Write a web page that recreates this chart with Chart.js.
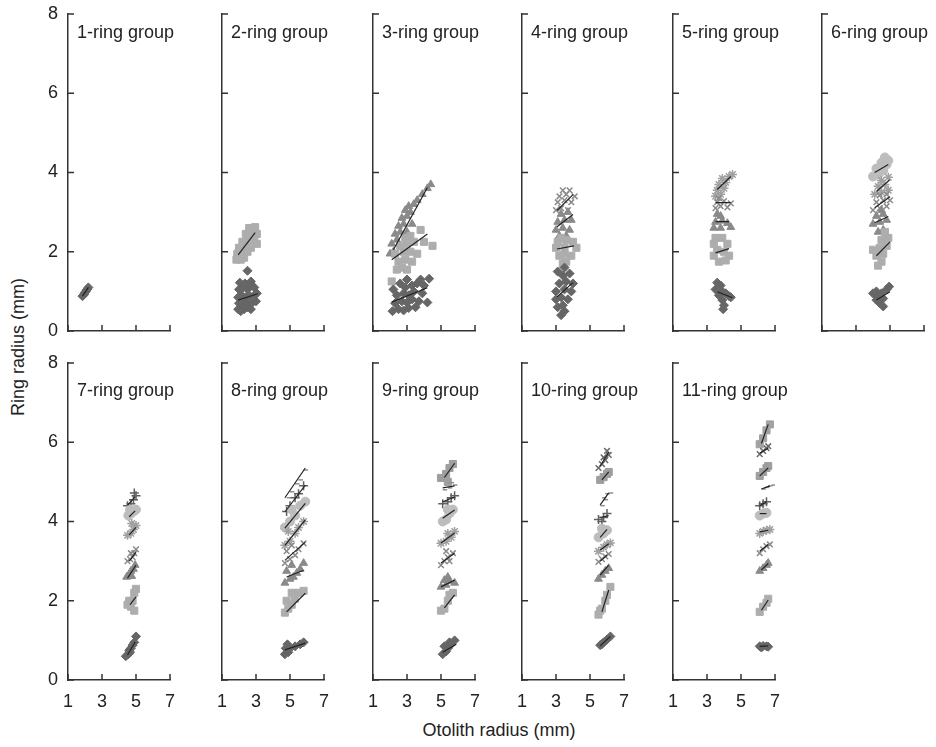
<!DOCTYPE html>
<html>
<head>
<meta charset="utf-8">
<title>Ring radius vs otolith radius</title>
<script src="https://cdn.jsdelivr.net/npm/chart.js@4.4.1/dist/chart.umd.min.js"></script>
<style>
  body { margin: 0; background: #fff; }
  #wrap { position: relative; width: 936px; height: 747px; overflow: hidden;
          font-family: "Liberation Sans", Arial, sans-serif; color: #222; }
  #wrap canvas { position: absolute; }
  .axis-title { position: absolute; font-size: 18px; white-space: nowrap; line-height: 1; }
  #ytitle { left: 18px; top: 347px; transform: translate(-50%, -50%) rotate(-90deg); }
  #xtitle { left: 499px; top: 730px; transform: translate(-50%, -50%); }
</style>
</head>
<body>
<div id="wrap">
  <div class="axis-title" id="ytitle">Ring radius (mm)</div>
  <div class="axis-title" id="xtitle">Otolith radius (mm)</div>
</div>
<script>
// Data

const panelTitles = ['1-ring group', '2-ring group', '3-ring group', '4-ring group', '5-ring group', '6-ring group',
                     '7-ring group', '8-ring group', '9-ring group', '10-ring group', '11-ring group'];
const xTickValues = [1, 3, 5, 7];
const yTickValues = [0, 2, 4, 6, 8];

// marker per ring number (ring 1 first)
const ringMarkers = ['rectRot', 'rect', 'triangle', 'crossRot', 'star', 'circle', 'cross', 'dash', 'rect', 'crossRot', 'rect'];
const ringColors  = ['#666666', '#adadad', '#8a8a8a', '#8a8a8a', '#a0a0a0', '#bdbdbd', '#606060', '#8e8e8e', '#9e9e9e', '#6a6a6a', '#a2a2a2'];
const ringSizes   = [4.5, 5, 4.5, 4, 4.5, 4.5, 4.5, 4.5, 5, 4, 5];

// [otolith radius, ring radius] points, one list per ring
const group1 = [
  [[1.85,0.88],[1.9,0.9],[1.95,0.93],[2.0,0.97],[2.05,1.0],[2.1,1.04],[2.15,1.06],[2.2,1.1]]
];
const group2 = [
  [[1.95,0.55],[2.1,0.5],[2.3,0.55],[2.5,0.6],[2.7,0.55],[2.0,0.7],[2.2,0.68],[2.45,0.72],[2.75,0.7],[3.0,0.75],
   [1.95,0.85],[2.15,0.9],[2.4,0.85],[2.65,0.88],[2.9,0.9],[3.05,0.95],[2.0,1.05],[2.25,1.1],[2.5,1.05],[2.75,1.15],
   [2.9,1.1],[2.05,1.22],[2.35,1.2],[2.7,1.25],[2.5,1.52]],
  [[1.85,1.8],[2.1,1.8],[2.3,1.85],[1.9,1.95],[2.2,2.0],[2.5,2.0],[2.0,2.1],[2.35,2.15],[2.7,2.1],[2.2,2.25],
   [2.55,2.3],[2.9,2.3],[2.4,2.45],[2.75,2.45],[3.05,2.45],[2.6,2.6],[2.95,2.62],[3.05,2.2]]
];
const group3 = [
  [[2.15,0.5],[2.5,0.55],[2.8,0.52],[3.1,0.58],[3.5,0.6],[2.3,0.7],[2.7,0.75],[3.0,0.72],[3.3,0.8],[3.7,0.75],
   [4.2,0.72],[2.4,0.9],[2.8,0.95],[3.1,0.9],[3.4,1.0],[3.9,0.95],[2.2,1.05],[2.9,1.1],[3.3,1.15],[3.6,1.2],
   [4.0,1.15],[3.0,1.3],[3.8,1.3],[4.3,1.32],[2.6,1.2]],
  [[2.1,1.25],[2.4,1.55],[2.7,1.6],[3.0,1.55],[2.5,1.75],[2.9,1.8],[3.3,1.75],[2.3,1.95],[2.8,2.0],[3.2,2.0],
   [3.6,1.95],[2.6,2.15],[3.0,2.2],[3.4,2.25],[4.0,2.25],[4.5,2.15],[3.2,2.4],[3.8,2.55],[2.9,2.35]],
  [[2.0,1.95],[2.2,2.0],[2.1,2.2],[2.4,2.3],[2.3,2.45],[2.6,2.5],[2.5,2.65],[2.8,2.7],[2.7,2.85],[3.0,2.9],
   [2.9,3.05],[3.2,3.0],[3.1,3.15],[3.4,3.2],[3.6,3.3],[3.9,3.45],[4.2,3.6],[4.4,3.7],[3.3,2.7],[3.0,2.5]]
];
const group4 = [
  [[3.3,0.4],[3.5,0.5],[3.1,0.6],[3.4,0.65],[3.0,0.8],[3.3,0.85],[3.7,0.8],[3.0,1.0],[3.5,1.05],[3.9,1.0],
   [3.2,1.2],[3.6,1.25],[4.0,1.2],[3.4,1.4],[3.8,1.45],[3.5,1.6],[3.1,1.5]],
  [[3.4,1.7],[3.6,1.75],[3.2,1.9],[3.5,1.95],[3.9,1.9],[3.0,2.1],[3.5,2.1],[4.2,2.1],[3.1,2.25],[3.6,2.3],[4.0,2.25],[3.3,2.35]],
  [[3.2,2.4],[3.6,2.4],[3.0,2.55],[3.4,2.6],[3.8,2.55],[3.1,2.75],[3.5,2.8],[3.9,2.8],[3.3,2.95],[3.7,3.0]],
  [[3.0,3.05],[3.3,3.1],[3.7,3.05],[3.1,3.25],[3.5,3.3],[3.9,3.25],[3.2,3.4],[3.6,3.45],[4.1,3.4],[3.4,3.55],[3.8,3.55]]
];
const group5 = [
  [[3.6,1.22],[3.8,1.15],[3.5,1.05],[3.9,1.0],[4.1,0.95],[3.7,0.9],[4.3,0.88],[4.4,0.85],[3.9,0.78],[4.0,0.65],[3.95,0.55]],
  [[3.5,2.35],[3.9,2.35],[3.4,2.2],[4.2,2.2],[3.6,2.05],[4.0,2.0],[3.4,1.9],[4.3,1.9],[3.7,1.75],[4.1,1.78]],
  [[3.6,2.95],[3.8,2.9],[3.5,2.75],[3.9,2.78],[4.2,2.72],[3.4,2.6],[3.8,2.6],[4.4,2.62]],
  [[3.5,3.1],[3.8,3.15],[4.2,3.12],[3.6,3.25],[4.0,3.28],[4.4,3.22],[3.7,3.35]],
  [[3.5,3.4],[3.8,3.45],[3.6,3.55],[4.0,3.6],[3.7,3.7],[4.1,3.75],[3.9,3.85],[4.3,3.9],[4.5,3.95]]
];
const group6 = [
  [[4.0,0.95],[4.2,1.0],[4.5,0.95],[4.8,1.05],[4.95,1.12],[4.3,0.85],[4.6,0.82],[4.4,0.7],[4.6,0.62],[4.2,0.78]],
  [[4.3,1.65],[4.5,1.75],[4.2,1.9],[4.6,1.95],[4.0,2.05],[4.4,2.1],[4.8,2.15],[4.5,2.3],[4.9,2.35],[4.7,2.5]],
  [[4.3,2.5],[4.6,2.55],[4.0,2.7],[4.4,2.75],[4.8,2.8],[4.2,2.9],[4.6,2.95],[4.5,3.05]],
  [[4.0,3.05],[4.4,3.1],[4.8,3.15],[4.2,3.25],[4.6,3.3],[5.0,3.3],[4.4,3.42],[4.8,3.45]],
  [[4.1,3.45],[4.5,3.5],[4.9,3.55],[4.3,3.65],[4.7,3.7],[4.5,3.8],[4.9,3.88]],
  [[4.0,3.9],[4.3,3.95],[4.6,4.05],[4.2,4.1],[4.8,4.2],[4.5,4.25],[4.9,4.3],[4.7,4.38]]
];
const group7 = [
  [[4.4,0.6],[4.55,0.65],[4.65,0.7],[4.6,0.75],[4.7,0.8],[4.8,0.88],[4.9,0.95],[5.0,1.1]],
  [[4.5,1.9],[4.6,2.0],[4.7,1.85],[4.9,1.75],[4.8,2.0],[4.9,2.2],[5.0,2.3]],
  [[4.45,2.6],[4.6,2.65],[4.75,2.62],[4.7,2.75],[4.85,2.8],[4.95,2.9]],
  [[4.5,3.0],[4.65,3.05],[4.8,3.1],[4.7,3.2],[4.9,3.2],[5.0,3.3]],
  [[4.5,3.65],[4.7,3.7],[4.85,3.8],[5.0,3.9],[4.75,3.95]],
  [[4.55,4.15],[4.7,4.2],[4.85,4.25],[5.0,4.3],[4.65,4.3]],
  [[4.5,4.4],[4.7,4.45],[4.85,4.55],[5.0,4.65],[4.9,4.72]]
];
const group8 = [
  [[4.7,0.65],[4.9,0.7],[4.75,0.8],[5.0,0.8],[5.3,0.85],[5.6,0.9],[5.8,0.95],[4.85,0.9]],
  [[4.7,1.7],[4.9,1.8],[5.1,1.9],[4.8,2.0],[5.3,2.05],[5.5,2.2],[5.8,2.25],[5.1,2.2]],
  [[4.7,2.45],[5.0,2.55],[5.2,2.6],[4.8,2.75],[5.4,2.7],[5.6,2.8],[5.1,2.9],[5.8,2.95]],
  [[4.7,2.95],[5.0,3.05],[5.3,3.15],[4.8,3.25],[5.5,3.3],[5.8,3.45],[5.1,3.4]],
  [[4.7,3.4],[5.0,3.5],[5.3,3.7],[4.9,3.75],[5.5,3.85],[5.8,4.0]],
  [[4.7,3.85],[5.0,4.0],[5.3,4.15],[5.1,4.3],[5.6,4.4],[5.9,4.5]],
  [[4.8,4.25],[5.0,4.4],[5.3,4.6],[5.5,4.7],[5.8,4.9]],
  [[4.8,4.6],[5.0,4.75],[5.3,4.95],[5.5,5.05],[5.8,5.3]]
];
const group9 = [
  [[5.1,0.65],[5.3,0.72],[5.4,0.8],[5.6,0.9],[5.8,1.0],[5.2,0.85],[5.5,0.95]],
  [[5.0,1.75],[5.2,1.8],[5.4,2.0],[5.5,2.15],[5.7,2.2]],
  [[5.0,2.35],[5.3,2.4],[5.5,2.5],[5.8,2.45],[5.4,2.6],[5.2,2.52]],
  [[5.0,2.9],[5.2,3.0],[5.4,3.1],[5.7,3.2],[5.5,3.0],[5.3,3.25]],
  [[5.0,3.45],[5.3,3.5],[5.6,3.6],[5.8,3.75],[5.4,3.7]],
  [[5.1,4.0],[5.3,4.05],[5.5,4.2],[5.7,4.3],[5.4,4.3]],
  [[5.1,4.45],[5.4,4.5],[5.6,4.6],[5.8,4.65]],
  [[5.1,4.8],[5.4,4.85],[5.7,4.92],[5.5,4.98]],
  [[5.0,5.1],[5.3,5.2],[5.5,5.35],[5.7,5.45],[5.4,5.0]]
];
const group10 = [
  [[5.6,0.88],[5.7,0.9],[5.8,0.95],[6.0,1.02],[6.2,1.1]],
  [[5.5,1.65],[5.6,1.75],[5.7,1.8],[5.9,2.0],[6.0,2.15],[6.2,2.35]],
  [[5.5,2.55],[5.7,2.65],[5.9,2.75],[6.1,2.82]],
  [[5.5,2.98],[5.7,3.05],[5.9,3.12],[6.1,3.18]],
  [[5.5,3.25],[5.8,3.35],[6.0,3.42],[6.2,3.46]],
  [[5.5,3.6],[5.8,3.7],[6.0,3.78],[5.7,3.82]],
  [[5.5,4.05],[5.8,4.1],[6.0,4.2],[5.7,4.0]],
  [[5.6,4.4],[5.8,4.55],[5.9,4.7],[6.1,4.72],[5.7,4.6]],
  [[5.6,5.05],[5.8,5.12],[6.0,5.2],[6.1,5.25]],
  [[5.5,5.35],[5.7,5.45],[5.9,5.55],[6.1,5.68],[6.0,5.78],[5.8,5.62]]
];
const group11 = [
  [[6.1,0.85],[6.2,0.82],[6.3,0.86],[6.5,0.85],[6.6,0.84]],
  [[6.1,1.72],[6.3,1.85],[6.5,1.95],[6.6,2.05]],
  [[6.1,2.75],[6.3,2.82],[6.5,2.9],[6.6,2.95]],
  [[6.1,3.2],[6.3,3.3],[6.5,3.38],[6.7,3.42]],
  [[6.1,3.7],[6.3,3.75],[6.5,3.78],[6.7,3.8]],
  [[6.1,4.15],[6.3,4.2],[6.5,4.22]],
  [[6.1,4.4],[6.3,4.45],[6.5,4.5]],
  [[6.2,4.82],[6.4,4.86],[6.6,4.9],[6.8,4.92]],
  [[6.1,5.15],[6.3,5.25],[6.5,5.35],[6.6,5.4]],
  [[6.1,5.7],[6.3,5.78],[6.5,5.85],[6.6,5.9]],
  [[6.1,5.95],[6.3,6.1],[6.5,6.3],[6.7,6.45]]
];

// fitted line per ring: [x0, y0, x1, y1]
const fit1 = [[1.85,0.88,2.2,1.1]];
const fit2 = [[1.95,0.78,3.1,0.94],[1.95,1.92,2.95,2.48]];
const fit3 = [[2.1,0.73,4.2,1.09],[2.1,1.8,4.2,2.45],[2.2,2.05,4.2,3.62]];
const fit4 = [[3.06,0.86,4.0,1.22],[3.06,2.07,4.05,2.15],[3.06,2.63,4.0,2.94],[3.06,3.04,4.0,3.44]];
const fit5 = [[3.6,0.99,4.5,0.84],[3.5,1.97,4.3,2.08],[3.5,2.76,4.3,2.76],[3.5,3.24,4.4,3.24],[3.6,3.57,4.4,3.9]];
const fit6 = [[4.2,0.78,5.0,0.99],[4.2,1.9,5.0,2.25],[4.1,2.73,4.9,2.89],[4.1,3.11,5.0,3.39],[4.2,3.52,5.0,3.82],[4.1,4.0,4.9,4.2]];
const fit7 = [[4.5,0.63,4.95,0.96],[4.65,1.9,5.0,2.1],[4.5,2.57,5.0,2.9],[4.6,3.0,5.0,3.22],[4.6,3.66,5.0,3.85],[4.6,4.12,4.95,4.27],[4.5,4.41,4.95,4.62]];
const fit8 = [[4.7,0.76,5.9,0.93],[4.8,1.72,5.9,2.19],[4.8,2.6,5.8,2.77],[4.7,3.02,5.9,3.48],[4.7,3.4,5.9,4.04],[4.7,3.83,5.9,4.46],[4.7,4.24,5.9,4.92],[4.7,4.6,5.9,5.35]];
const fit9 = [[5.1,0.7,5.9,0.9],[5.2,1.82,5.8,2.15],[5.0,2.35,5.8,2.52],[5.0,2.95,5.8,3.2],[5.0,3.46,5.8,3.71],[5.1,4.08,5.8,4.29],[5.1,4.5,5.8,4.62],[5.1,4.85,5.8,4.9],[5.2,5.11,5.8,5.47]];
const fit10 = [[5.6,0.86,6.2,1.1],[5.7,1.72,6.1,2.27],[5.6,2.65,6.1,2.9],[5.6,3.0,6.0,3.15],[5.6,3.28,6.1,3.44],[5.6,3.6,6.0,3.8],[5.6,4.1,6.1,4.15],[5.6,4.42,6.1,4.72],[5.7,5.05,6.1,5.25],[5.6,5.4,6.1,5.75]];
const fit11 = [[6.1,0.85,6.6,0.86],[6.2,1.76,6.6,2.02],[6.2,2.78,6.6,2.94],[6.1,3.25,6.6,3.42],[6.1,3.74,6.6,3.78],[6.1,4.2,6.5,4.2],[6.1,4.4,6.5,4.5],[6.2,4.82,6.7,4.9],[6.1,5.15,6.6,5.35],[6.1,5.72,6.6,5.85],[6.2,5.97,6.6,6.45]];

const groups = [group1, group2, group3, group4, group5, group6, group7, group8, group9, group10, group11];
const fits = [fit1, fit2, fit3, fit4, fit5, fit6, fit7, fit8, fit9, fit10, fit11];

// Layout

const axisLeft = [68, 222, 373, 522, 673, 822];
const rowTop = [14, 363];
const titleDrop = [24, 32.5];
const plotW = 102, plotH = 317;
const padL = 60, padT = 30, padR = 32, padB = 40;
const FONT = '"Liberation Sans", Arial, Helvetica, sans-serif';

Chart.defaults.font.family = FONT;
Chart.defaults.font.size = 18;
Chart.defaults.color = '#222';

const filledMarkers = ['rectRot', 'rect', 'triangle', 'circle'];

// inward tick marks + the panel label
const panelDecor = {
  id: 'panelDecor',
  afterDraw(chart, args, opts) {
    const {ctx, chartArea, scales} = chart;
    ctx.save();
    ctx.strokeStyle = '#333';
    ctx.lineWidth = 1.5;
    ctx.beginPath();
    yTickValues.forEach(v => {
      const py = scales.y.getPixelForValue(v);
      ctx.moveTo(chartArea.left, py);
      ctx.lineTo(chartArea.left + 6, py);
    });
    xTickValues.forEach(v => {
      const px = scales.x.getPixelForValue(v);
      ctx.moveTo(px, chartArea.bottom);
      ctx.lineTo(px, chartArea.bottom - 6);
    });
    ctx.stroke();
    ctx.fillStyle = '#222';
    ctx.font = '18px ' + FONT;
    ctx.textBaseline = 'alphabetic';
    ctx.textAlign = 'left';
    ctx.fillText(opts.title, chartArea.left + 9, chartArea.top + opts.drop);
    ctx.restore();
  }
};

function makePanel(i) {
  const col = i % 6, row = Math.floor(i / 6);
  const canvas = document.createElement('canvas');
  canvas.width = padL + plotW + padR;
  canvas.height = padT + plotH + padB;
  canvas.style.left = (axisLeft[col] - padL) + 'px';
  canvas.style.top = (rowTop[row] - padT) + 'px';
  document.getElementById('wrap').appendChild(canvas);

  const datasets = [];
  groups[i].forEach((pts, r) => {
    const filled = filledMarkers.includes(ringMarkers[r]);
    datasets.push({
      data: pts.map(p => ({x: p[0], y: p[1]})),
      pointStyle: ringMarkers[r],
      pointRadius: ringSizes[r],
      backgroundColor: ringColors[r],
      borderColor: ringColors[r],
      borderWidth: filled ? 1 : 1.5,
      order: 2
    });
  });
  fits[i].forEach(f => {
    datasets.push({
      data: [{x: f[0], y: f[1]}, {x: f[2], y: f[3]}],
      showLine: true,
      pointRadius: 0,
      borderColor: '#222',
      borderWidth: 1.2,
      order: 1
    });
  });

  new Chart(canvas, {
    type: 'scatter',
    data: {datasets: datasets},
    plugins: [panelDecor],
    options: {
      responsive: false,
      animation: false,
      devicePixelRatio: 1,
      layout: {padding: {left: 0, top: padT, right: padR, bottom: 0}},
      plugins: {
        legend: {display: false},
        tooltip: {enabled: false},
        panelDecor: {title: panelTitles[i], drop: titleDrop[row]}
      },
      scales: {
        x: {
          type: 'linear', min: 1, max: 7,
          afterBuildTicks: s => { s.ticks = xTickValues.map(v => ({value: v})); },
          afterFit: s => { s.height = padB; },
          grid: {display: false, drawTicks: false},
          border: {display: true, color: '#333', width: 1.5},
          ticks: {display: row === 1, padding: 11, color: '#222', font: {size: 18}}
        },
        y: {
          type: 'linear', min: 0, max: 8,
          afterBuildTicks: s => { s.ticks = yTickValues.map(v => ({value: v})); },
          afterFit: s => { s.width = padL; },
          grid: {display: false, drawTicks: false},
          border: {display: true, color: '#333', width: 1.5},
          ticks: {display: col === 0, padding: 10, color: '#222', font: {size: 18}}
        }
      }
    }
  });
}

for (let i = 0; i < groups.length; i++) makePanel(i);
</script>
</body>
</html>
